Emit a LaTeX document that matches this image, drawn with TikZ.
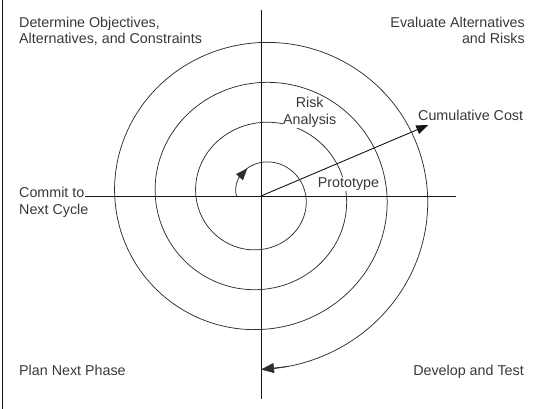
\documentclass[tikz,border=0pt]{standalone}
\usepackage{fontspec}
\setmainfont{Liberation Sans}
\usetikzlibrary{arrows.meta}
\definecolor{txtgray}{gray}{0.22}
\definecolor{linegray}{gray}{0.18}
\newcommand\SpX[1]{261+(24.5+10.15*#1)*cos(180-90*#1)}
\newcommand\SpY[1]{196-(23.5+10*#1)*sin(180-90*#1)}
\begin{document}
\begin{tikzpicture}[x=1pt,y=-1pt,
  lbl/.style={inner sep=0pt, font=\fontsize{14.3}{16.6}\selectfont, text=txtgray},
  mask/.style={lbl, fill=white, inner xsep=0.5pt, inner ysep=1pt},
  axis/.style={line width=0.9pt, draw=black!92},
  spiral/.style={line width=0.75pt, draw=linegray},
  tipA/.style={-{Triangle[length=12pt,width=9pt]}},
  tipB/.style={-{Triangle[length=13pt,width=10pt]}}]
\useasboundingbox (0,0) rectangle (540,409);
% coordinates
\coordinate (O) at (261,196);
\coordinate (vtop) at (261,10);
\coordinate (vbot) at (261,399);
\coordinate (hright) at (456,196);
\coordinate (edgeT) at (2.5,0);
\coordinate (edgeB) at (2.5,409);
\coordinate (cctip) at (428.3,125);
\coordinate (sA) at ({\SpX{0.45}},{\SpY{0.45}});
\coordinate (sB) at ({\SpX{0.72}},{\SpY{0.72}});
\coordinate (eA) at ({\SpX{14.9}},{\SpY{14.9}});
\coordinate (eB) at ({\SpX{15}},{\SpY{15}});
% quadrant labels
\node[lbl, anchor=base west] (tl1) at (19,27.5) {Determine Objectives,};
\node[lbl, anchor=base west] (tl2) at (19,44) {Alternatives, and Constraints};
\node[lbl, anchor=base east] (tr1) at (525,27.5) {Evaluate Alternatives};
\node[lbl, anchor=base east] (tr2) at (525,44) {and Risks};
\node[lbl, anchor=base west] (cm1) at (19,197.5) {Commit to};
\node[lbl, anchor=base west] (cm2) at (19,214) {Next Cycle};
\node[lbl, anchor=base west] (pnp) at (19,375.5) {Plan Next Phase};
\node[lbl, anchor=base east] (dat) at (524,375.5) {Develop and Test};
\node[lbl, anchor=base west] (cc) at (418,121) {Cumulative Cost};
% frame edge and axes
\draw[axis] (edgeT) -- (edgeB);
\draw[axis] (vtop) -- (vbot);
\draw[axis] ([xshift=0.5pt]cm1.east |- O) -- (hright);
% cumulative cost arrow
\draw[axis, tipA] (O) -- (cctip);
% spiral
\draw[spiral] plot[domain=0:15, samples=600, variable=\t] ({\SpX{\t}},{\SpY{\t}});
\draw[spiral, tipA] (sA) -- (sB);
\draw[spiral, tipB] (eA) -- (eB);
% labels that mask the spiral
\node[mask, anchor=base] (ra1) at (309.7,108) {Risk};
\node[mask, anchor=base] (ra2) at (309.7,124.5) {Analysis};
\node[mask, anchor=base] (pt) at (348.5,187.5) {Prototype};
\end{tikzpicture}
\end{document}
